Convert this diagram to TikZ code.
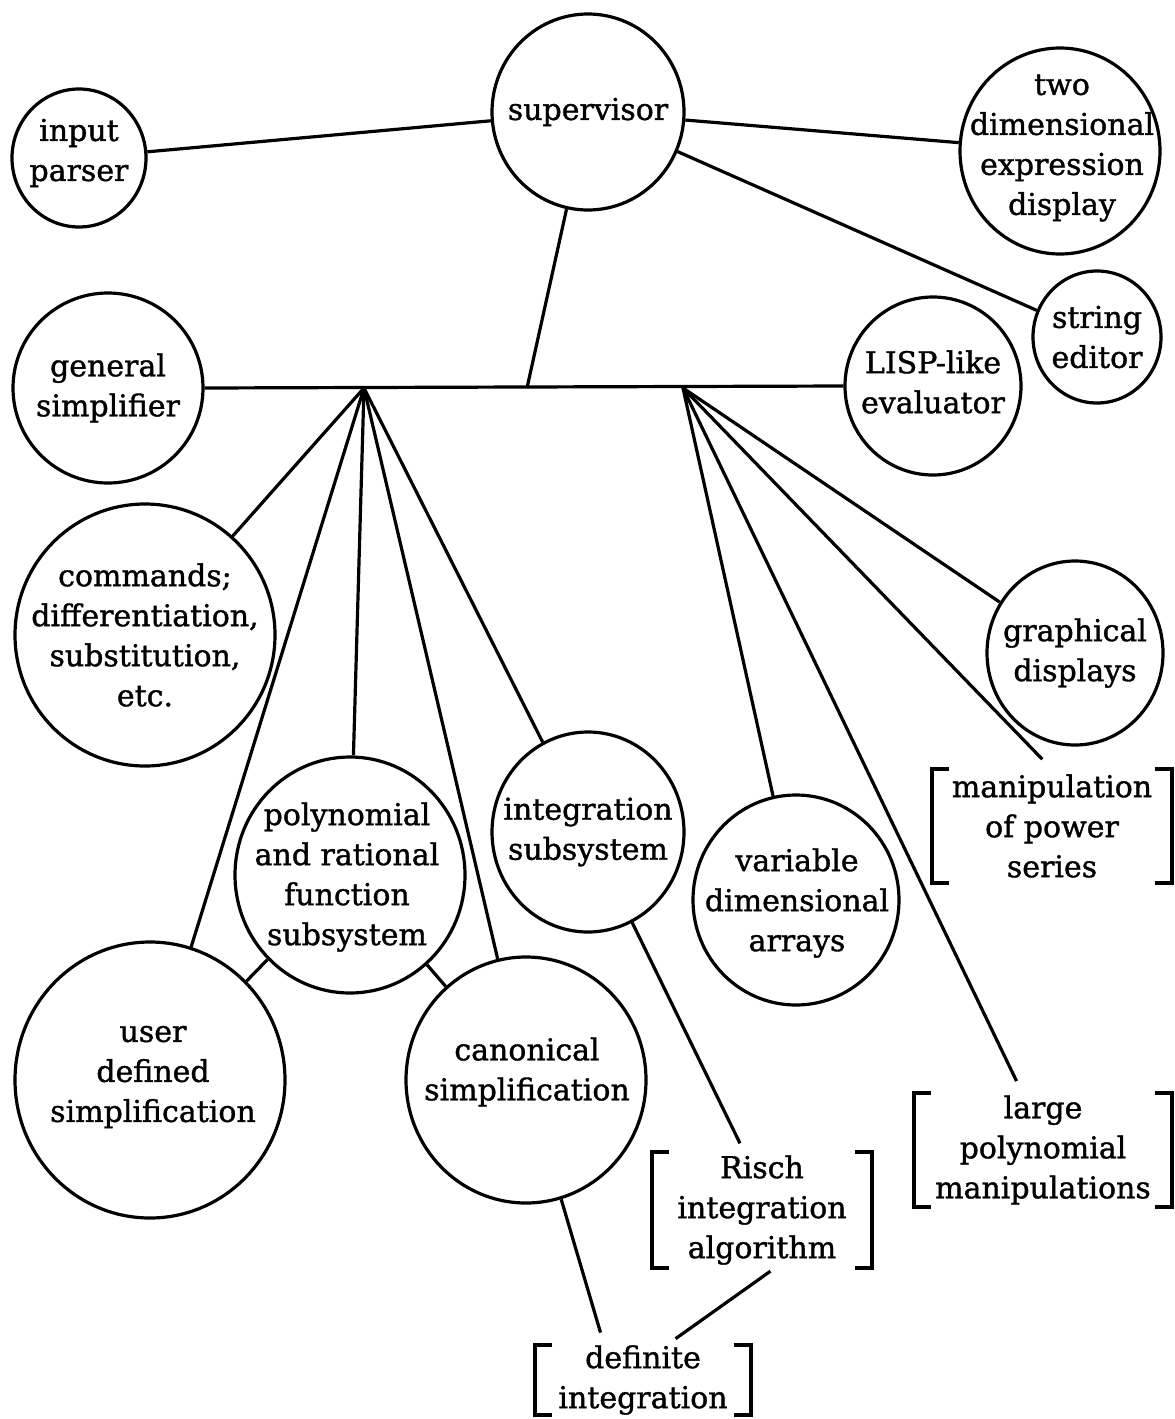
\documentclass[tikz,border=0pt]{standalone}
\usepackage{fontspec}
\setmainfont[FakeBold=1.2]{DejaVu Serif}
\usetikzlibrary{shapes.geometric}

% left and right square brackets round a box node
\newcommand\bracketsfor[1]{%
  \draw[brk] ([xshift=17pt]#1.north west) -| (#1.south west) -- ++(17,0);
  \draw[brk] ([xshift=-17pt]#1.north east) -| (#1.south east) -- ++(-17,0);}

\begin{document}
\begin{tikzpicture}[x=1pt,y=-1pt,
  bub/.style 2 args={draw, ellipse, line width=3.2pt, minimum width=#1, minimum height=#2, inner sep=0pt},
  lbl/.style={align=center, inner sep=0pt, font=\fontsize{30}{40}\selectfont},
  box/.style 2 args={rectangle, minimum width=#1, minimum height=#2, inner sep=0pt, align=center, font=\fontsize{30}{40}\selectfont},
  link/.style={line width=3.2pt},
  brk/.style={line width=3.8pt}]
\useasboundingbox (0,0) rectangle (1175,1419);

% module bubbles
\node[bub={192pt}{196pt}] (sup) at (588,112) {};
\node[lbl] (sup-t) at (sup) {supervisor};
\node[bub={134pt}{138pt}] (inp) at (79,158) {};
\node[lbl] (inp-t) at (79,153) {input\\parser};
\node[bub={200pt}{206pt}] (two) at (1060,151) {};
\node[lbl] (two-t) at (1062,148) {two\\dimensional\\expression\\display};
\node[bub={128pt}{132pt}] (str) at (1097,337) {};
\node[lbl] (str-t) at (str) {string\\editor};
\node[bub={190pt}{190pt}] (gs) at (108,388) {};
\node[lbl] (gs-t) at (gs) {general\\simplifier};
\node[bub={176pt}{178pt}] (lisp) at (933,386) {};
\node[lbl] (lisp-t) at (933,382) {LISP-like\\evaluator};
\node[bub={260pt}{262pt}] (cmd) at (145,635) {};
\node[lbl] (cmd-t) at (cmd) {commands;\\differentiation,\\substitution,\\etc.};
\node[bub={176pt}{184pt}] (gr) at (1075,653) {};
\node[lbl] (gr-t) at (gr) {graphical\\displays};
\node[bub={230pt}{236pt}] (poly) at (350,875) {};
\node[lbl] (poly-t) at (347,877) {polynomial\\and rational\\function\\subsystem};
\node[bub={192pt}{200pt}] (integ) at (588,832) {};
\node[lbl] (integ-t) at (integ) {integration\\subsystem};
\node[bub={206pt}{210pt}] (var) at (796,900) {};
\node[lbl] (var-t) at (797,903) {variable\\dimensional\\arrays};
\node[bub={270pt}{276pt}] (user) at (150,1080) {};
\node[lbl] (user-t) at (153,1077) {user\\defined\\simplification};
\node[bub={240pt}{246pt}] (canon) at (526,1080) {};
\node[lbl] (canon-t) at (527,1072) {canonical\\simplification};

% bracketed (planned) modules
\node[box={239pt}{113pt}] (pow) at (1052,826) {manipulation\\of power\\series};
\node[box={220pt}{115pt}] (risch) at (762,1210) {Risch\\integration\\algorithm};
\node[box={258pt}{114pt}] (lpm) at (1043,1150) {large\\polynomial\\manipulations};
\node[box={215pt}{69pt}] (defint) at (643,1380) {definite\\integration};
\bracketsfor{pow}
\bracketsfor{risch}
\bracketsfor{lpm}
\bracketsfor{defint}

% bus and junction points
\coordinate (j) at (527,388);
\coordinate (h1) at (364,388);
\coordinate (h2) at (683,388);
\draw[link] (gs.east) -- (lisp.west);
\draw[link] (sup) -- (j);
\draw[link] (sup) -- (inp);
\draw[link] (sup) -- (two);
\draw[link] (sup) -- (str);

% left fan
\draw[link] (h1) -- (cmd);
\draw[link] (h1) -- (user);
\draw[link] (h1) -- (poly);
\draw[link] (h1) -- (canon);
\draw[link] (h1) -- (integ);

% right fan
\draw[link] (h2) -- (var);
\draw[link] (h2) -- (gr);
\draw[link, shorten >=14pt] (h2) -- (pow.north);
\draw[link, shorten >=13pt] (h2) -- (lpm.110);

% lower links
\draw[link] (poly) -- (user);
\draw[link] (poly) -- (canon);
\draw[link, shorten >=10pt] (integ) -- (risch.107);
\draw[link, shorten >=13pt] (canon) -- (defint.138);
\draw[link, shorten <=6pt, shorten >=11pt] (risch.-77) -- (defint.56);
\end{tikzpicture}
\end{document}
